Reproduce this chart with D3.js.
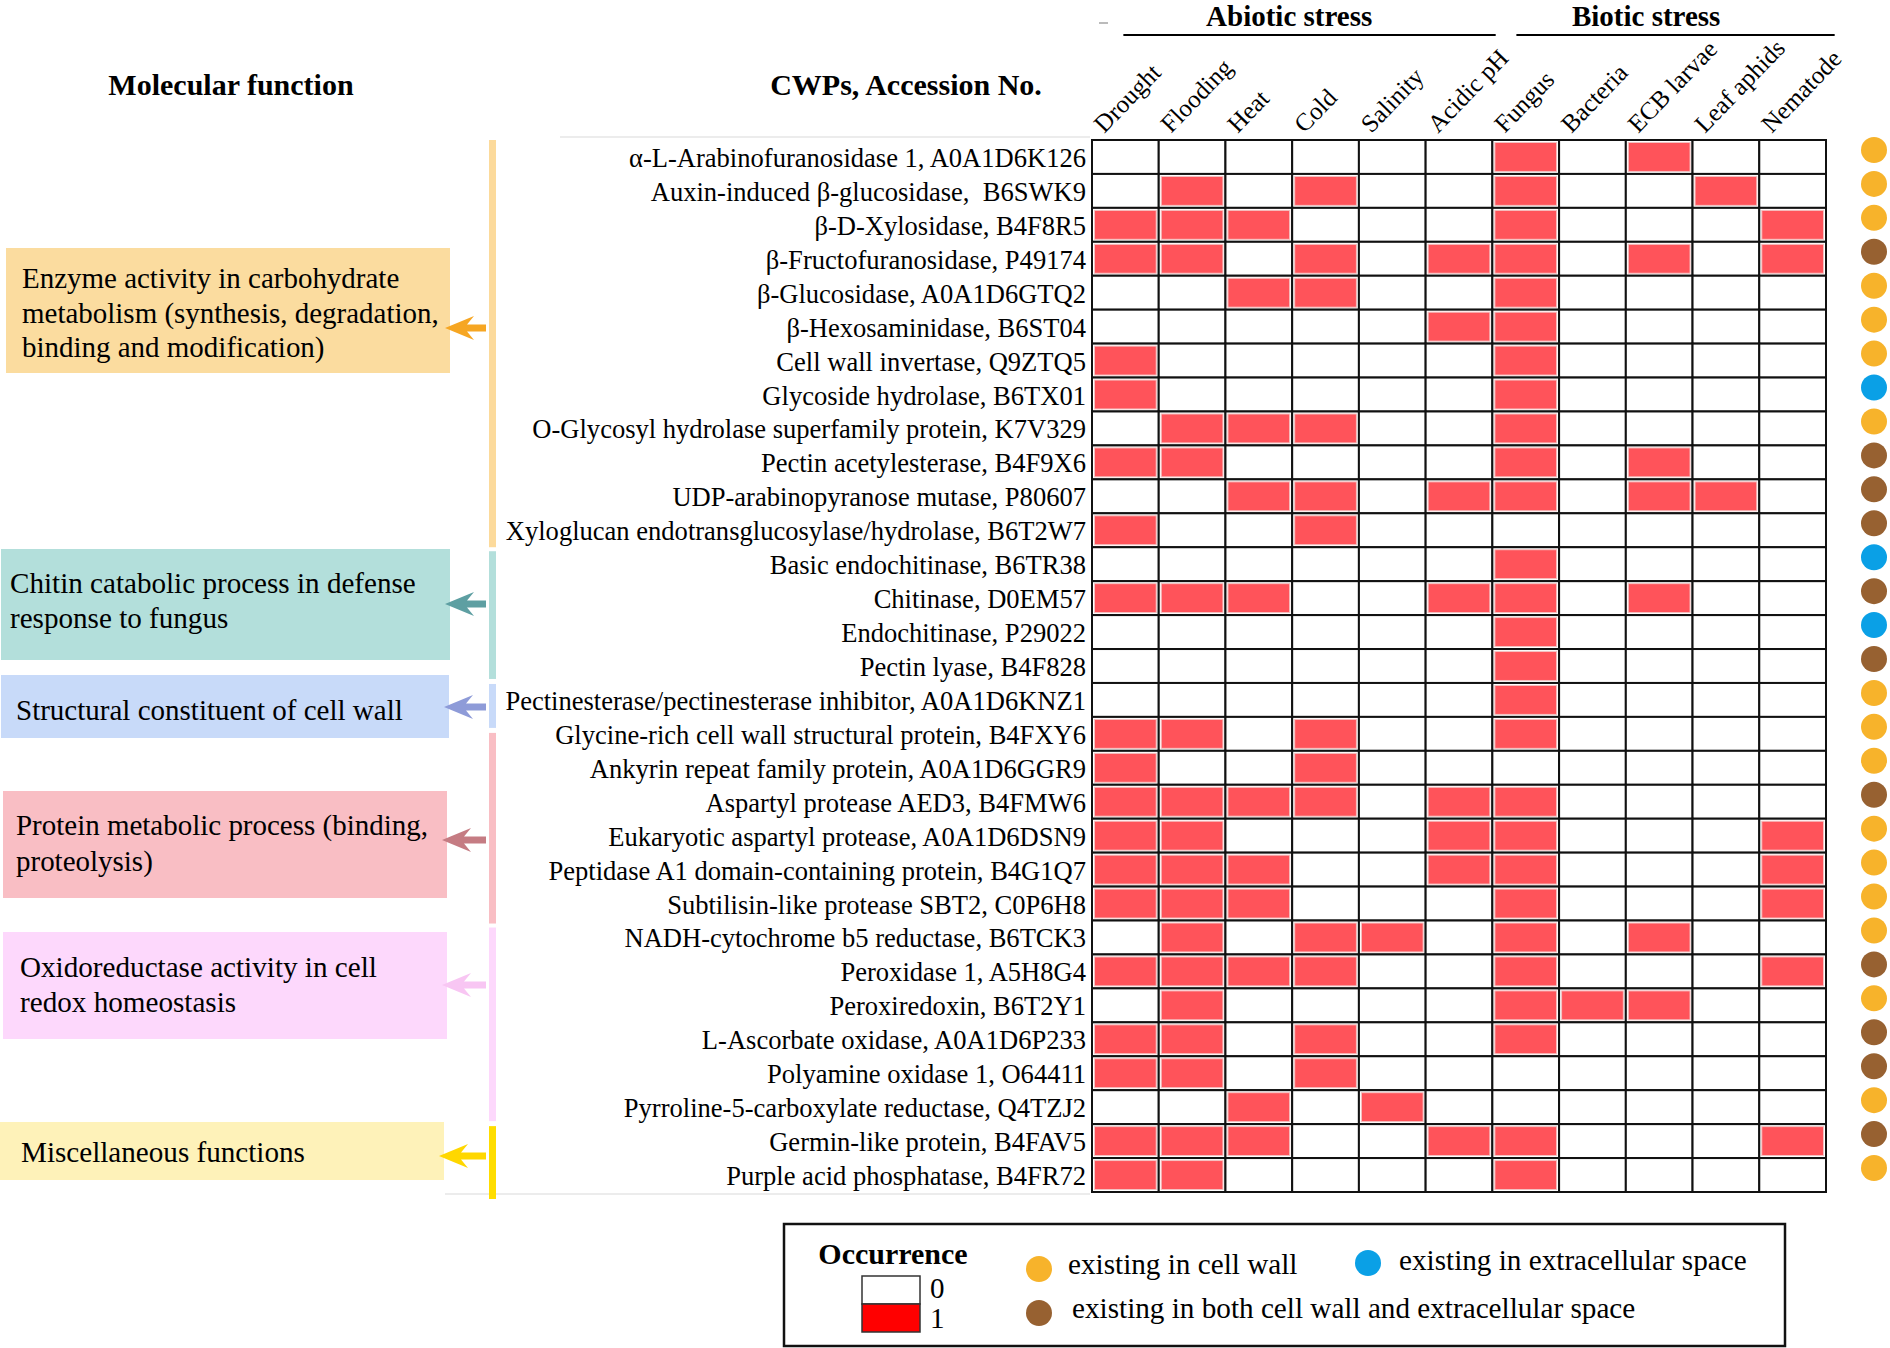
<!DOCTYPE html>
<html><head><meta charset="utf-8">
<script src="https://cdn.jsdelivr.net/npm/d3@7/dist/d3.min.js"></script>
<style>
body{margin:0;background:#fff}
svg{display:block}
text{font-family:"Liberation Serif","Times New Roman",serif;fill:#000;white-space:pre}
</style>
</head><body>
<svg id="chart" width="1890" height="1348"></svg>
<script>
// ---------------- DATA ----------------
const stresses = ["Drought","Flooding","Heat","Cold","Salinity","Acidic pH","Fungus","Bacteria","ECB larvae","Leaf aphids","Nematode"];
const stressGroups = [
  {name:"Abiotic stress", from:"Drought", to:"Acidic pH"},
  {name:"Biotic stress", from:"Fungus", to:"Nematode"}
];
const proteins = [
  "α-L-Arabinofuranosidase 1, A0A1D6K126",
  "Auxin-induced β-glucosidase,  B6SWK9",
  "β-D-Xylosidase, B4F8R5",
  "β-Fructofuranosidase, P49174",
  "β-Glucosidase, A0A1D6GTQ2",
  "β-Hexosaminidase, B6ST04",
  "Cell wall invertase, Q9ZTQ5",
  "Glycoside hydrolase, B6TX01",
  "O-Glycosyl hydrolase superfamily protein, K7V329",
  "Pectin acetylesterase, B4F9X6",
  "UDP-arabinopyranose mutase, P80607",
  "Xyloglucan endotransglucosylase/hydrolase, B6T2W7",
  "Basic endochitinase, B6TR38",
  "Chitinase, D0EM57",
  "Endochitinase, P29022",
  "Pectin lyase, B4F828",
  "Pectinesterase/pectinesterase inhibitor, A0A1D6KNZ1",
  "Glycine-rich cell wall structural protein, B4FXY6",
  "Ankyrin repeat family protein, A0A1D6GGR9",
  "Aspartyl protease AED3, B4FMW6",
  "Eukaryotic aspartyl protease, A0A1D6DSN9",
  "Peptidase A1 domain-containing protein, B4G1Q7",
  "Subtilisin-like protease SBT2, C0P6H8",
  "NADH-cytochrome b5 reductase, B6TCK3",
  "Peroxidase 1, A5H8G4",
  "Peroxiredoxin, B6T2Y1",
  "L-Ascorbate oxidase, A0A1D6P233",
  "Polyamine oxidase 1, O64411",
  "Pyrroline-5-carboxylate reductase, Q4TZJ2",
  "Germin-like protein, B4FAV5",
  "Purple acid phosphatase, B4FR72"
];
// occurrence[protein][stress] : 1 = occurs, 0 = not
const occurrence = [
  [0,0,0,0,0,0,1,0,1,0,0],
  [0,1,0,1,0,0,1,0,0,1,0],
  [1,1,1,0,0,0,1,0,0,0,1],
  [1,1,0,1,0,1,1,0,1,0,1],
  [0,0,1,1,0,0,1,0,0,0,0],
  [0,0,0,0,0,1,1,0,0,0,0],
  [1,0,0,0,0,0,1,0,0,0,0],
  [1,0,0,0,0,0,1,0,0,0,0],
  [0,1,1,1,0,0,1,0,0,0,0],
  [1,1,0,0,0,0,1,0,1,0,0],
  [0,0,1,1,0,1,1,0,1,1,0],
  [1,0,0,1,0,0,0,0,0,0,0],
  [0,0,0,0,0,0,1,0,0,0,0],
  [1,1,1,0,0,1,1,0,1,0,0],
  [0,0,0,0,0,0,1,0,0,0,0],
  [0,0,0,0,0,0,1,0,0,0,0],
  [0,0,0,0,0,0,1,0,0,0,0],
  [1,1,0,1,0,0,1,0,0,0,0],
  [1,0,0,1,0,0,0,0,0,0,0],
  [1,1,1,1,0,1,1,0,0,0,0],
  [1,1,0,0,0,1,1,0,0,0,1],
  [1,1,1,0,0,1,1,0,0,0,1],
  [1,1,1,0,0,0,1,0,0,0,1],
  [0,1,0,1,1,0,1,0,1,0,0],
  [1,1,1,1,0,0,1,0,0,0,1],
  [0,1,0,0,0,0,1,1,1,0,0],
  [1,1,0,1,0,0,1,0,0,0,0],
  [1,1,0,1,0,0,0,0,0,0,0],
  [0,0,1,0,1,0,0,0,0,0,0],
  [1,1,1,0,0,1,1,0,0,0,1],
  [1,1,0,0,0,0,1,0,0,0,0]
];
// subcellular location per protein
const locations = [
  "wall","wall","wall","both","wall","wall","wall","extra","wall","both","both","both",
  "extra","both","extra","both",
  "wall",
  "wall","wall","both","wall","wall","wall",
  "wall","both","wall","both","both","wall",
  "both","wall"
];
const locationKeys = ["wall","extra","both"];
const locationLabels = ["existing in cell wall","existing in extracellular space","existing in both cell wall and extracellular space"];
const functionGroups = [
  {lines:["Enzyme activity in carbohydrate","metabolism (synthesis, degradation,","binding and modification)"], first:0, last:11},
  {lines:["Chitin catabolic process in defense","response to fungus"], first:12, last:15},
  {lines:["Structural constituent of cell wall"], first:16, last:16},
  {lines:["Protein metabolic process (binding,","proteolysis)"], first:17, last:22},
  {lines:["Oxidoreductase activity in cell","redox homeostasis"], first:23, last:28},
  {lines:["Miscellaneous functions"], first:29, last:30}
];
const occurrenceLevels = ["0","1"];

// ---------------- STYLE / LAYOUT ----------------
const locColor = d3.scaleOrdinal().domain(locationKeys).range(["#F7B32B","#0AA0E6","#976131"]);
const groupStyle = [
  {box:"#FBDC9F", bar:"#FCDA9B", arrow:"#F6A623", x0:6, x1:450, y0:248, y1:373, tx:22, base:288, lh:34.5, width:417, arrowY:328, dTop:0, dBot:0},
  {box:"#B3DFDB", bar:"#B3DFDB", arrow:"#5E9FA2", x0:1, x1:450, y0:549, y1:660, tx:10, base:593, lh:34.5, width:406, arrowY:604, dTop:4, dBot:-4},
  {box:"#C8DAF9", bar:"#C8DAF9", arrow:"#8E9BD8", x0:1, x1:449, y0:675, y1:738, tx:16, base:720, lh:34.5, width:387, arrowY:707, dTop:1, dBot:11},
  {box:"#F9BEC4", bar:"#F9BEC4", arrow:"#C57C83", x0:3, x1:447, y0:791, y1:898, tx:16, base:835, lh:36, width:412, arrowY:840, dTop:16, dBot:3},
  {box:"#FDD8FC", bar:"#FDD8FC", arrow:"#F8C6F3", x0:3, x1:447, y0:932, y1:1039, tx:20, base:977, lh:35, width:357, arrowY:985, dTop:7, dBot:-3},
  {box:"#FEF2B9", bar:"#FFDD00", arrow:"#FFD700", x0:0, x1:444, y0:1122, y1:1180, tx:21, base:1162, lh:35, width:284, arrowY:1156, dTop:2, dBot:7}
];

const svg = d3.select("#chart");
const x = d3.scaleBand().domain(stresses).range([1092, 1826]).padding(0);
const y = d3.scaleBand().domain(proteins).range([140, 1192]).padding(0);
const bw = x.bandwidth(), bh = y.bandwidth();

function fit(sel, target){
  const w = sel.node().getComputedTextLength();
  const fs = parseFloat(sel.attr("font-size"));
  return fs * target / w;
}

// faint frame lines near label column
svg.append("line").attr("x1",560).attr("x2",1090).attr("y1",137).attr("y2",137).attr("stroke","#ececec").attr("stroke-width",2);
svg.append("line").attr("x1",445).attr("x2",1090).attr("y1",1194).attr("y2",1194).attr("stroke","#ececec").attr("stroke-width",2);
svg.append("line").attr("x1",1099).attr("x2",1108).attr("y1",23).attr("y2",23).attr("stroke","#bbb").attr("stroke-width",2);

// ---------------- HEADERS ----------------
svg.append("text").attr("x",231).attr("y",95).attr("text-anchor","middle").attr("font-size",30).attr("font-weight","bold").text("Molecular function");
svg.append("text").attr("x",906).attr("y",95).attr("text-anchor","middle").attr("font-size",30).attr("font-weight","bold").text("CWPs, Accession No.");

const sgLine = [{a:0.47, b:0.05},{a:0.36, b:0.13}];
stressGroups.forEach((g,i)=>{
  const xa = x(g.from) + bw*sgLine[i].a;
  const xb = x(g.to) + bw + bw*sgLine[i].b;
  svg.append("line").attr("x1",xa).attr("x2",xb).attr("y1",35).attr("y2",35).attr("stroke","#000").attr("stroke-width",2);
  svg.append("text").attr("x",(x(g.from)+x(g.to)+bw)/2 + (i===0? -3: -13)).attr("y",26).attr("text-anchor","middle")
    .attr("font-size",29).attr("font-weight","bold").text(g.name);
});

// rotated column labels
svg.append("g").selectAll("text").data(stresses).join("text")
  .attr("transform", d=>`translate(${x(d)+bw/2-21},134) rotate(-46)`)
  .attr("font-size",25).text(d=>d);

// ---------------- HEATMAP ----------------
const cells = [];
proteins.forEach((p,i)=>stresses.forEach((s,j)=>cells.push({p,s,v:occurrence[i][j]})));
const gCells = svg.append("g");
gCells.selectAll("rect.cell").data(cells).join("rect").attr("class","cell")
  .attr("x",d=>x(d.s)).attr("y",d=>y(d.p)).attr("width",bw).attr("height",bh)
  .attr("fill","#fff").attr("stroke","#111").attr("stroke-width",2);
gCells.selectAll("rect.on").data(cells.filter(d=>d.v===1)).join("rect").attr("class","on")
  .attr("x",d=>x(d.s)+2.5).attr("y",d=>y(d.p)+2.5).attr("width",bw-5).attr("height",bh-5)
  .attr("fill","#FF535A").attr("stroke","#F4C2C2").attr("stroke-width",1);

// protein labels
const labels = svg.append("g").selectAll("text").data(proteins).join("text")
  .attr("x",1086).attr("y",d=>y(d)+bh/2+10).attr("text-anchor","end").attr("font-size",26).text(d=>d);
const widest = labels.filter(d=>d.startsWith("Pectinesterase"));
labels.attr("font-size", fit(widest, 581));

// location dots
svg.append("g").selectAll("circle").data(proteins).join("circle")
  .attr("cx",1874).attr("cy",d=>y(d)+bh/2-7).attr("r",13)
  .attr("fill",(d,i)=>locColor(locations[i]));

// ---------------- FUNCTION GROUPS ----------------
functionGroups.forEach((g,i)=>{
  const st = groupStyle[i];
  const top = y(proteins[g.first]) + st.dTop;
  const bot = y(proteins[g.last]) + bh + st.dBot;
  svg.append("rect").attr("x",489).attr("y",top).attr("width",7).attr("height",bot-top).attr("fill",st.bar);
  svg.append("rect").attr("x",st.x0).attr("y",st.y0).attr("width",st.x1-st.x0).attr("height",st.y1-st.y0).attr("fill",st.box);
  const texts = svg.append("g").selectAll("text").data(g.lines).join("text")
    .attr("x",st.tx).attr("y",(d,k)=>st.base+k*st.lh).attr("font-size",28).text(d=>d);
  let widestLine = texts.filter((d,k)=>k===0);
  if(i===0) widestLine = texts.filter((d,k)=>k===1);
  texts.attr("font-size", fit(widestLine, st.width));
  // arrow
  const tx = st.x1 - 5, ay = st.arrowY, end = 486;
  const p = `M${tx},${ay} L${tx+29},${ay-12} L${tx+22},${ay-3.5} L${end},${ay-3.5} L${end},${ay+3.5} L${tx+22},${ay+3.5} L${tx+29},${ay+12} Z`;
  svg.append("path").attr("d",p).attr("fill",st.arrow);
});

// ---------------- LEGEND ----------------
const lg = svg.append("g");
lg.append("rect").attr("x",784).attr("y",1224).attr("width",1001).attr("height",122).attr("fill","#fff").attr("stroke","#111").attr("stroke-width",2.5);
lg.append("text").attr("x",893).attr("y",1264).attr("text-anchor","middle").attr("font-size",30).attr("font-weight","bold").text("Occurrence");
const occColor = d3.scaleOrdinal().domain(occurrenceLevels).range(["#ffffff","#ff0000"]);
lg.selectAll("rect.sw").data(occurrenceLevels).join("rect").attr("class","sw")
  .attr("x",862).attr("y",(d,i)=>1276+i*28).attr("width",58).attr("height",28)
  .attr("fill",d=>occColor(d)).attr("stroke","#333").attr("stroke-width",1.5);
lg.selectAll("text.sl").data(occurrenceLevels).join("text").attr("class","sl")
  .attr("x",930).attr("y",(d,i)=>1298+i*30).attr("font-size",29).text(d=>d);

const legPos = [{cx:1039, cy:1269, tx:1068, ty:1274},{cx:1368, cy:1263, tx:1399, ty:1270},{cx:1039, cy:1313, tx:1072, ty:1318}];
locationKeys.forEach((k,i)=>{
  const lp = legPos[i];
  lg.append("circle").attr("cx",lp.cx).attr("cy",lp.cy).attr("r",13).attr("fill",locColor(k));
  lg.append("text").attr("x",lp.tx).attr("y",lp.ty).attr("font-size",29.2).text(locationLabels[i]);
});
</script>
</body></html>
